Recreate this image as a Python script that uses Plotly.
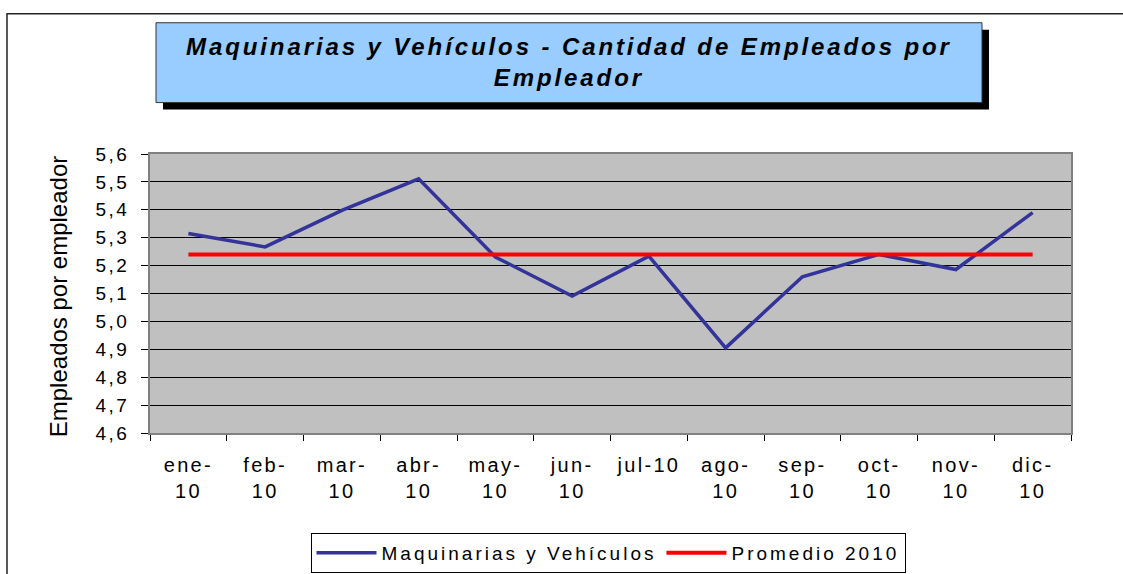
import plotly.graph_objects as go

categories = ["ene-10", "feb-10", "mar-10", "abr-10", "may-10", "jun-10",
              "jul-10", "ago-10", "sep-10", "oct-10", "nov-10", "dic-10"]
tick_lines = [("ene-", "10"), ("feb-", "10"), ("mar-", "10"), ("abr-", "10"), ("may-", "10"),
              ("jun-", "10"), ("jul-10", " "), ("ago-", "10"), ("sep-", "10"), ("oct-", "10"),
              ("nov-", "10"), ("dic-", "10")]
maquinarias = [5.315, 5.267, 5.398, 5.511, 5.231, 5.091, 5.234, 4.905, 5.160, 5.240, 5.186, 5.390]
promedio = [5.24] * 12
y_ticks = [4.6, 4.7, 4.8, 4.9, 5.0, 5.1, 5.2, 5.3, 5.4, 5.5, 5.6]

W, H = 1123, 574
L, R, T, B = 150, 1071, 153.5, 433

def px(x):
    return (x - L) / (R - L)

def py(y):
    return (B - y) / (B - T)

def sp(text, ls):
    return f'<span style="letter-spacing:{ls}px">{text}</span>'

FONT = "Liberation Sans, Arial, sans-serif"

x_ticktext = [sp(a, 2.3) + "<br>" + sp(b, 2.3) for a, b in tick_lines]
y_ticktext = [sp(f"{v:.1f}".replace(".", ","), 2.5) for v in y_ticks]

fig = go.Figure()
fig.add_trace(go.Scatter(x=categories, y=maquinarias, mode="lines",
                         name=sp("Maquinarias y Vehículos", 3),
                         line=dict(color="#333399", width=3.5)))
fig.add_trace(go.Scatter(x=categories, y=promedio, mode="lines",
                         name=sp("Promedio 2010", 3),
                         line=dict(color="#FF0000", width=4)))

shapes = [
    # outer chart border
    dict(type="rect", xref="paper", yref="paper", x0=px(7), x1=px(1140), y0=py(590), y1=py(13),
         line=dict(color="#222222", width=1.5), fillcolor="rgba(0,0,0,0)", layer="below"),
    # title shadow
    dict(type="rect", xref="paper", yref="paper", x0=px(163), x1=px(989), y0=py(109), y1=py(29),
         line=dict(color="black", width=0), fillcolor="black"),
    # title box
    dict(type="rect", xref="paper", yref="paper", x0=px(156), x1=px(982), y0=py(102), y1=py(22),
         line=dict(color="#333333", width=1), fillcolor="#99CCFF"),
]

title_html = ("<b><i>" + sp("Maquinarias y Vehículos - Cantidad de Empleados por", 2.9)
              + "<br>" + sp("Empleador", 2.9) + "</i></b>")

annotations = [
    dict(text=title_html,
         xref="paper", yref="paper", x=px(569), y=py(61), xanchor="center", yanchor="middle",
         showarrow=False, font=dict(family=FONT, size=24, color="black"), align="center"),
    dict(text="Empleados por empleador", xref="paper", yref="paper", x=px(58), y=py(296),
         xanchor="center", yanchor="middle", textangle=-90, showarrow=False,
         font=dict(family=FONT, size=24, color="black")),
]

fig.update_layout(
    width=W, height=H,
    margin=dict(l=L, r=W - R, t=T, b=H - B, pad=0),
    paper_bgcolor="white",
    plot_bgcolor="#C0C0C0",
    separators=",.",
    font=dict(family=FONT, size=19, color="black"),
    shapes=shapes,
    annotations=annotations,
    showlegend=True,
    legend=dict(orientation="h", xref="container", yref="container",
                x=608 / W, y=1 - 533 / H, xanchor="center", yanchor="top",
                bordercolor="black", borderwidth=1, bgcolor="white",
                font=dict(family=FONT, size=19, color="black"),
                itemwidth=60, tracegroupgap=0),
)

fig.update_xaxes(
    type="category", tickmode="array", tickvals=categories, ticktext=x_ticktext,
    range=[-0.5, 11.5], automargin=False,
    showgrid=False, ticks="outside", tickson="boundaries", ticklen=6,
    tickcolor="black", showline=True, linecolor="#808080", linewidth=1.5, mirror=True,
    tickfont=dict(family=FONT, size=20, color="black"), zeroline=False,
    ticklabelstandoff=13,
)
fig.update_yaxes(
    range=[4.6, 5.6], tickmode="array", tickvals=y_ticks, ticktext=y_ticktext,
    automargin=False,
    showgrid=True, gridcolor="black", gridwidth=1,
    ticks="outside", ticklen=7, tickcolor="black",
    showline=True, linecolor="#808080", linewidth=1.5, mirror=True,
    tickfont=dict(family=FONT, size=19, color="black"), zeroline=False,
    ticklabelstandoff=8,
)

fig.write_html("out.html", config={"displayModeBar": False},
               post_script="document.body.style.margin='0';")
